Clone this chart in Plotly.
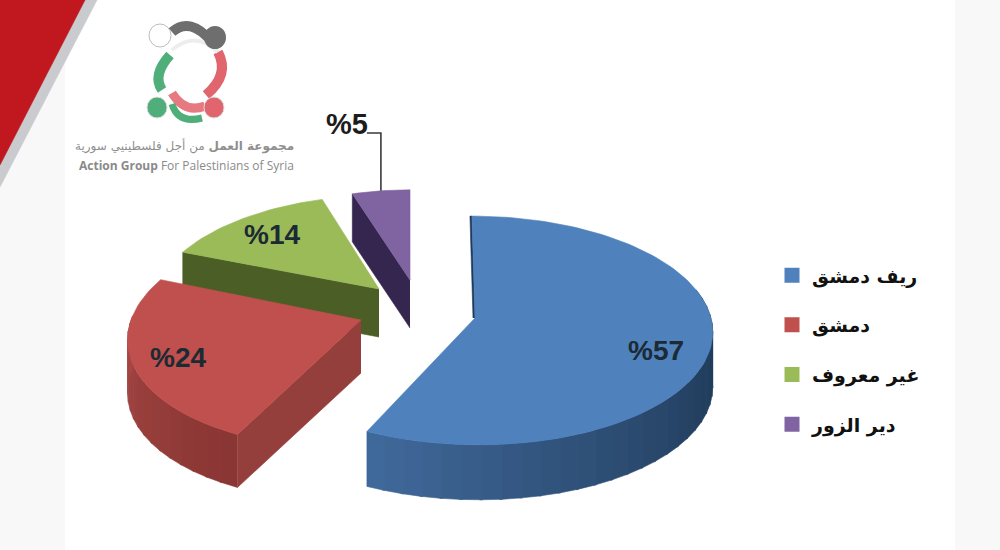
import math
import plotly.graph_objects as go

# ---- data ----
categories = ["ريف دمشق", "دمشق", "غير معروف", "دير الزور"]
values = [57, 24, 14, 5]
value_labels = ["%57", "%24", "%14", "%5"]

# ---- style ----
top_colors = ["#4f81bd", "#c0504d", "#9bbb59", "#8064a2"]
radial_colors = ["#1f3a5c", "#953f3c", "#4a5e26", "#35264f"]
apexes = [(475, 318), (361, 320), (379, 289), (410, 280)]
radii_x = [236, 230, 222, 206]
radii_y = [113, 114, 104, 100]
shears = [0.03, -0.13, -0.06, 0]
depths = [55, 53, 48, 48]
label_r = [0.82, 0.78, 0.76, None]
label_shift = [(-12, 12), (-9, 3), (0, -1), (0, 0)]
QUAD = 0.109

fig = go.Figure()

def proj(i, theta_deg):
    t = math.radians(theta_deg)
    s, c = math.sin(t), math.cos(t)
    w = 1 + QUAD * c
    X = radii_x[i] * s / w
    Y = -radii_y[i] * c / w
    return apexes[i][0] + X + shears[i] * Y, apexes[i][1] + Y

def poly(xs, ys, color, name=None):
    fig.add_trace(go.Scatter(x=xs, y=ys, mode="lines", fill="toself", fillcolor=color,
                             line=dict(color=color, width=0.6), hoverinfo="skip" if name is None else "text",
                             text=name, showlegend=False))

def mix(c1, c2, f):
    a = [int(c1[j:j + 2], 16) for j in (1, 3, 5)]
    b = [int(c2[j:j + 2], 16) for j in (1, 3, 5)]
    return "#%02x%02x%02x" % tuple(round(a[k] + (b[k] - a[k]) * f) for k in range(3))

# ---- page decoration ----
poly([0, 97, 0], [0, 0, 187], "#c9cbce")
poly([0, 85, 0], [0, 0, 165], "#c1171f")

# ---- slices, back to front ----
total = sum(values)
starts = []
acc = 0
for v in values:
    starts.append(acc / total * 360)
    acc += v

for i in [3, 2, 1, 0]:
    a0 = starts[i]
    a1 = a0 + values[i] / total * 360
    d = depths[i]
    ax, ay = apexes[i]
    if i == 0:
        n = 30
        lo, hi = 75, a1
        for k in range(n):
            t0 = lo + (hi - lo) * k / n
            t1 = min(lo + (hi - lo) * (k + 1.15) / n, hi)
            p0, p1 = proj(i, t0), proj(i, t1)
            f = k / (n - 1)
            poly([p0[0], p1[0], p1[0], p0[0]], [p0[1], p1[1], p1[1] + d, p0[1] + d],
                 mix("#1e3855", "#40699b", f ** 1.5))
        p = proj(i, a0)
        poly([ax, p[0], p[0] - 2, ax - 2], [ay, p[1], p[1], ay], "#1f3a5c")
    elif i == 1:
        n = 16
        lo, hi = a0, 272
        for k in range(n):
            t0 = lo + (hi - lo) * k / n
            t1 = min(lo + (hi - lo) * (k + 1.15) / n, hi)
            p0, p1 = proj(i, t0), proj(i, t1)
            poly([p0[0], p1[0], p1[0], p0[0]], [p0[1], p1[1], p1[1] + d, p0[1] + d],
                 mix("#8a3634", "#a54744", k / (n - 1)))
        p = proj(i, a0)
        poly([ax, p[0], p[0], ax], [ay, p[1], p[1] + d, ay + d], radial_colors[i])
    else:
        p = proj(i, a0)
        poly([ax, p[0], p[0], ax], [ay, p[1], p[1] + d, ay + d], radial_colors[i])
    steps = max(8, int(values[i] * 2))
    pts = [proj(i, a0 + (a1 - a0) * k / steps) for k in range(steps + 1)]
    poly([ax] + [q[0] for q in pts] + [ax], [ay] + [q[1] for q in pts] + [ay],
         top_colors[i], f"{categories[i]}: {values[i]}%")

# ---- value labels ----
annotations = []
for i in range(3):
    mid = starts[i] + values[i] / total * 180
    t = math.radians(mid)
    s, c = math.sin(t), math.cos(t)
    w = 1 + QUAD * c
    r = label_r[i]
    x = apexes[i][0] + r * radii_x[i] * s / w + label_shift[i][0]
    y = apexes[i][1] - r * radii_y[i] * c / w + label_shift[i][1]
    annotations.append(dict(x=x, y=y, text=f"<b>{value_labels[i]}</b>", showarrow=False,
                            font=dict(family="Liberation Sans", size=28, color="#1c2a33")))

mid = starts[3] + values[3] / total * 180
lx, ly = proj(3, mid)
fig.add_trace(go.Scatter(x=[lx, lx, lx - 14], y=[ly, 133, 133], mode="lines",
                         line=dict(color="#3a3a3a", width=1.6), hoverinfo="skip", showlegend=False))
annotations.append(dict(x=347, y=124, text=f"<b>{value_labels[3]}</b>", showarrow=False,
                        font=dict(family="Liberation Sans", size=29, color="#1c1c1c")))

# ---- legend ----
for i in range(4):
    fig.add_trace(go.Scatter(x=[None], y=[None], mode="markers", name=categories[i],
                             legendgroup=categories[i],
                             marker=dict(symbol="square", size=15, color=top_colors[i])))

# ---- logo ----
annotations.append(dict(x=296, y=146, xanchor="right", showarrow=False,
                        text="<b>مجموعة العمل</b> من أجل فلسطينيي سورية",
                        font=dict(family="DejaVu Sans", size=12, color="#8f8f8f")))
annotations.append(dict(x=296, y=165, xanchor="right", showarrow=False,
                        text="<b>Action Group</b> For Palestinians of Syria",
                        font=dict(family="Open Sans", size=12, color="#8a8a8a")))

shapes = [
    dict(type="rect", xref="x", yref="y", x0=0, x1=65, y0=0, y1=550, fillcolor="#f8f8f8", line_width=0, layer="below"),
    dict(type="rect", xref="x", yref="y", x0=955, x1=1000, y0=0, y1=550, fillcolor="#f8f8f8", line_width=0, layer="below"),
    dict(type="path", xref="x", yref="y", path="M 172 32 Q 190 16 212 42", line=dict(color="#6e6e6e", width=10)),
    dict(type="path", xref="x", yref="y", path="M 218 52 Q 230 75 206 95", line=dict(color="#e0656c", width=10)),
    dict(type="path", xref="x", yref="y", path="M 172 93 Q 185 114 205 106", line=dict(color="#e77a80", width=9)),
    dict(type="path", xref="x", yref="y", path="M 170 55 Q 152 75 162 90", line=dict(color="#4fae7a", width=10)),
    dict(type="path", xref="x", yref="y", path="M 172 104 Q 178 124 202 118", line=dict(color="#4fae7a", width=7)),
    dict(type="path", xref="x", yref="y", path="M 172 50 Q 195 30 218 52", line=dict(color="#ededed", width=4)),
    dict(type="circle", xref="x", yref="y", x0=204, x1=226, y0=26, y1=49, fillcolor="#6e6e6e", line_width=0),
    dict(type="circle", xref="x", yref="y", x0=204, x1=224, y0=97, y1=118, fillcolor="#e0656c", line=dict(color="#dddddd", width=1)),
    dict(type="circle", xref="x", yref="y", x0=147, x1=167, y0=97, y1=118, fillcolor="#4fae7a", line=dict(color="#dddddd", width=1)),
    dict(type="circle", xref="x", yref="y", x0=149, x1=171, y0=24, y1=47, fillcolor="#ffffff", line=dict(color="#bdbdbd", width=1)),
]

fig.update_layout(
    width=1000, height=550,
    margin=dict(l=0, r=0, t=0, b=0),
    paper_bgcolor="#ffffff", plot_bgcolor="#ffffff",
    xaxis=dict(range=[0, 1000], visible=False, fixedrange=True),
    yaxis=dict(range=[550, 0], visible=False, fixedrange=True),
    annotations=annotations, shapes=shapes,
    legend=dict(x=0.772, y=0.534, xanchor="left", yanchor="top", tracegroupgap=22,
                bgcolor="rgba(0,0,0,0)",
                font=dict(family="DejaVu Sans", size=19, color="#111111", weight="bold"),
                itemclick=False, itemdoubleclick=False),
    font=dict(family="Liberation Sans"),
)

fig.write_html("out.html", config=dict(displayModeBar=False),
               post_script="document.body.style.margin='0';document.documentElement.style.overflow='hidden';")
